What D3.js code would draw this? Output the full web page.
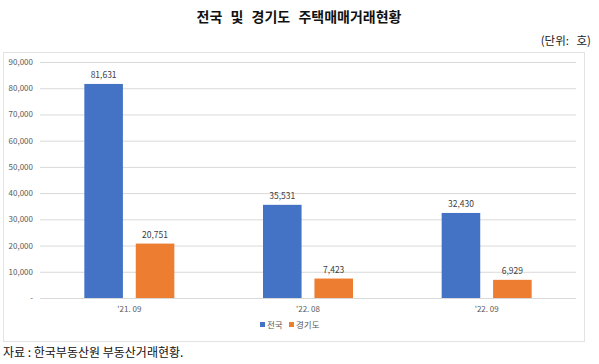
<!DOCTYPE html>
<html>
<head>
<meta charset="utf-8">
<script src="https://cdn.jsdelivr.net/npm/d3@7.9.0/dist/d3.min.js"></script>
<style>
  body { margin: 0; background: #fff; }
  svg { display: block; font-family: "Noto Sans CJK KR", "Noto Sans", sans-serif; }
</style>
</head>
<body>
<svg width="599" height="364"></svg>
<script>
const categories = ["'21. 09", "'22. 08", "'22. 09"];
const seriesNames = ['전국', '경기도'];
const nationwide = [81631, 35531, 32430];
const gyeonggi = [20751, 7423, 6929];
const yTicks = [0, 10000, 20000, 30000, 40000, 50000, 60000, 70000, 80000, 90000];
const colors = ['#4472C4', '#ED7D31'];

const svg = d3.select('svg');

// title + unit
svg.append('text')
  .attr('x', 299).attr('y', 22)
  .attr('text-anchor', 'middle')
  .attr('font-size', 14).attr('font-weight', 'bold')
  .attr('word-spacing', 5)
  .attr('fill', '#111')
  .text('전국 및 경기도 주택매매거래현황');

svg.append('text')
  .attr('x', 591).attr('y', 45)
  .attr('text-anchor', 'end')
  .attr('font-size', 11.5).attr('fill', '#222')
  .attr('word-spacing', 5)
  .text('(단위: 호)');

// chart frame
svg.append('rect')
  .attr('x', 3.5).attr('y', 52.5)
  .attr('width', 581).attr('height', 289)
  .attr('fill', 'none').attr('stroke', '#e3e3e3');

let x0 = d3.scaleBand().domain(categories).range([40, 576]).padding(0);
let bw = x0.bandwidth();
let x1 = d3.scaleBand().domain(seriesNames).range([bw / 2 - 45, bw / 2 + 45]).paddingInner(0.25);
let y = d3.scaleLinear().domain([0, 90000]).range([298, 62]);

// grid
svg.append('g')
  .attr('transform', 'translate(40,0)')
  .call(d3.axisLeft(y).tickValues(yTicks).tickSize(-536).tickFormat(''))
  .call(g => g.select('.domain').remove())
  .call(g => g.selectAll('line').attr('stroke', '#d9d9d9'));

// y labels
svg.append('g').selectAll('text')
  .data(yTicks)
  .join('text')
  .attr('x', 33).attr('y', d => y(d) + 3)
  .attr('text-anchor', 'end')
  .attr('font-size', 8).attr('fill', '#595959')
  .text(d => d === 0 ? '-' : d3.format(',')(d));

let data = categories.map((c, i) => ({ cat: c, values: [nationwide[i], gyeonggi[i]] }));

let groups = svg.append('g').selectAll('g')
  .data(data)
  .join('g')
  .attr('transform', d => `translate(${x0(d.cat)},0)`);

groups.selectAll('rect')
  .data(d => d.values.map((v, idx) => ({ key: seriesNames[idx], value: v, idx })))
  .join('rect')
  .attr('x', d => x1(d.key))
  .attr('width', x1.bandwidth())
  .attr('y', d => y(d.value))
  .attr('height', d => y(0) - y(d.value))
  .attr('fill', d => colors[d.idx]);

groups.selectAll('text')
  .data(d => d.values.map((v, idx) => ({ key: seriesNames[idx], value: v })))
  .join('text')
  .attr('x', d => x1(d.key) + x1.bandwidth() / 2)
  .attr('y', d => y(d.value) - 6)
  .attr('text-anchor', 'middle')
  .attr('font-size', 8.5).attr('fill', '#404040')
  .text(d => d3.format(',')(d.value));

// x labels
svg.append('g').selectAll('text')
  .data(categories)
  .join('text')
  .attr('x', d => x0(d) + bw / 2)
  .attr('y', 312)
  .attr('text-anchor', 'middle')
  .attr('font-size', 8).attr('fill', '#595959')
  .text(d => d);

// legend
let legend = svg.append('g').attr('transform', 'translate(260,328)');
let lx = [0, 29];
seriesNames.forEach((s, idx) => {
  legend.append('rect')
    .attr('x', lx[idx]).attr('y', -6)
    .attr('width', 5).attr('height', 5)
    .attr('fill', colors[idx]);
  legend.append('text')
    .attr('x', lx[idx] + 7).attr('y', 0)
    .attr('font-size', 8.5).attr('fill', '#595959')
    .text(s);
});

// source
svg.append('text')
  .attr('x', 3).attr('y', 357)
  .attr('font-size', 12).attr('fill', '#111')
  .text('자료 : 한국부동산원 부동산거래현황.');
</script>
</body>
</html>
